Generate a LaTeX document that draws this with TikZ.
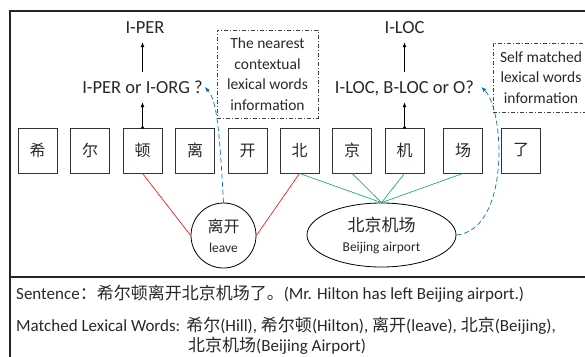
\documentclass[tikz,border=0pt]{standalone}
\usepackage{fontspec}
\setmainfont{Carlito}
\newfontfamily\cjk{Noto Sans CJK SC}
\usepackage{tikz}
\usetikzlibrary{arrows.meta, shapes.geometric}

\definecolor{lineblue}{RGB}{0,112,192}
\definecolor{linegreen}{RGB}{0,176,80}
\definecolor{textgray}{RGB}{40,40,40}

\begin{document}
\begin{tikzpicture}[x=1pt,y=-1pt,>={Latex[length=5pt,width=4pt]},text=textgray,
  charbox/.style={draw=black!80, line width=0.8pt, minimum width=39pt, minimum height=45pt, inner sep=0pt, font=\fontsize{16}{18}\selectfont\cjk},
  tag/.style={inner xsep=2pt, inner ysep=0pt, minimum height=30pt, text height=12pt, text depth=0pt, font=\fontsize{18.5}{20}\selectfont},
  infobox/.style={draw=black!75, dash pattern=on 4pt off 2pt on 1pt off 2pt, line width=0.6pt, align=center, inner sep=0pt, font=\fontsize{15.5}{20.5}\selectfont},
  wordnode/.style={draw=black, line width=0.8pt, inner sep=0pt, align=center, font=\fontsize{13.5}{20}\selectfont},
  bluelink/.style={draw=lineblue, line width=0.7pt, dash pattern=on 5pt off 3pt},
  sentline/.style={anchor=base west, inner sep=0pt, font=\fontsize{17}{18}\selectfont}]
  \useasboundingbox (0,0) rectangle (585,356);

  \draw[line width=1.3pt, black!85] (10,11) rectangle (600,380); % 外枠
  \draw[line width=1.3pt, black!85] (10,277) -- (600,277); % 区切り線

  \foreach \ch/\x [count=\i] in {希/37.5,尔/90,顿/142.5,离/195,开/247.5,北/299.5,京/352,机/404.5,场/463,了/521} {
    \node[charbox] (c-\i) at (\x,150.5) {\ch}; % 文字の箱
  }

  \node[tag] (q-per) at (142.5,87) {I-PER or I-ORG ?};
  \node[tag] (a-per) at (145,27) {I-PER};
  \node[tag] (q-loc) at (404.5,87) {I-LOC, B-LOC or O?};
  \node[tag] (a-loc) at (404.5,27) {I-LOC};
  \foreach \i/\q/\a in {3/q-per/a-per, 8/q-loc/a-loc} {
    \fill (c-\i.north) circle[radius=1.6pt];
    \draw[->, line width=0.8pt] (c-\i.north) -- (c-\i.north |- \q.south);
    \draw[->, line width=0.8pt] (c-\i.north |- \q.north) -- (c-\i.north |- \a.south);
  }

  \node[infobox, minimum width=101pt, minimum height=88pt] (near) at (267.5,74) {The nearest\\contextual\\lexical words\\information};
  \node[infobox, minimum width=96pt, minimum height=69pt] (self) at (541,77.5) {Self matched\\lexical words\\information};

  \node[wordnode, circle, minimum size=65pt] (w-leave) at (223.5,235.5) {{\cjk\fontsize{16}{20}\selectfont 离开}\\leave};
  \node[wordnode, ellipse, minimum width=149pt, minimum height=64pt] (w-airport) at (381.5,235) {{\cjk\fontsize{17}{20}\selectfont 北京机场}\\Beijing airport};

  \draw[red, line width=0.6pt] (c-3.south) -- (w-leave.west);
  \draw[red, line width=0.6pt] (c-6.south) -- (w-leave.east);
  \foreach \i in {6,...,9} {
    \draw[linegreen, line width=0.6pt] (c-\i.south) -- (w-airport.north); % 北京机场への線
  }
  \draw[bluelink, ->] (w-leave.north) .. controls (219,120) and (216,100) .. (q-per.east);
  \draw[bluelink, ->] (w-airport.east) .. controls (510,230) and (505,110) .. ([xshift=5pt]q-loc.east);

  \node[sentline] (sent) at (16,299) {Sentence{\cjk ：希尔顿离开北京机场了。}(Mr. Hilton has left Beijing airport.)};
  \node[sentline] (lex) at (16,331) {Matched Lexical Words:\hspace{6pt}{\cjk 希尔}(Hill), {\cjk 希尔顿}(Hilton), {\cjk 离开}(leave), {\cjk 北京}(Beijing),};
  \node[sentline] (lex-2) at (188,351.5) {{\cjk 北京机场}(Beijing Airport)};
\end{tikzpicture}
\end{document}
